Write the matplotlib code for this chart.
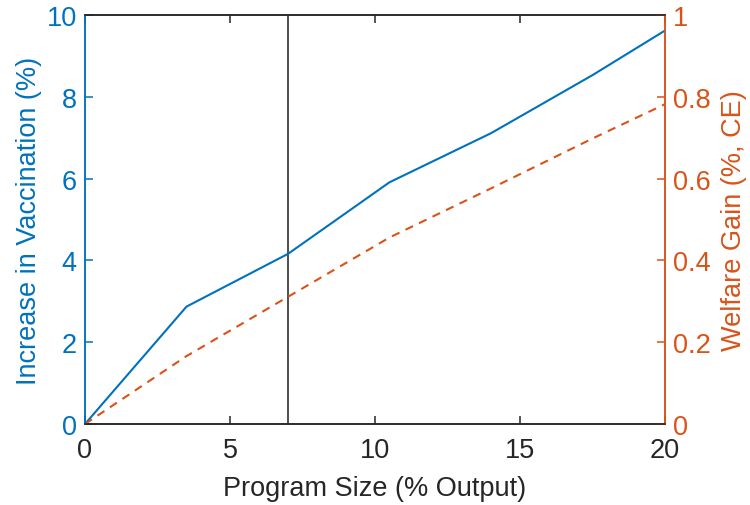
import matplotlib
matplotlib.use("Agg")
import matplotlib.pyplot as plt

program_size = [0, 3.5, 7, 10.5, 14, 17.5, 20]
vaccination_increase = [0, 2.87, 4.16, 5.91, 7.11, 8.53, 9.62]
welfare_gain = [0, 0.166, 0.311, 0.456, 0.576, 0.698, 0.782]
baseline_size = 7

xticks = [0, 5, 10, 15, 20]
yticks_left = [0, 2, 4, 6, 8, 10]
yticks_right = [0, 0.2, 0.4, 0.6, 0.8, 1]
yticklabels_right = ["0", "0.2", "0.4", "0.6", "0.8", "1"]

BLUE = "#0072BD"
ORANGE = "#D95319"
DARK = "#262626"

plt.rcParams['font.family'] = ['Liberation Sans', 'DejaVu Sans']
fs = 19.5

fig = plt.figure(figsize=(7.5, 5.06), dpi=100)
ax = fig.add_axes([85/750, 1-425/506, 580/750, 409/506])
ax2 = ax.twinx()

ax.plot(program_size, vaccination_increase, color=BLUE, lw=1.5, zorder=3)
ax.axvline(baseline_size, color="#404040", lw=1.3, zorder=2)
ax2.plot(program_size, welfare_gain, color=ORANGE, lw=1.5, ls=(0, (4, 3.2)))

ax.set_xlim(0, 20)
ax.set_ylim(0, 10)
ax2.set_ylim(0, 1)
ax.set_xticks(xticks)
ax.set_xticklabels([str(v) for v in xticks])
ax.set_yticks(yticks_left)
ax.set_yticklabels([str(v) for v in yticks_left])
ax2.set_yticks(yticks_right)
ax2.set_yticklabels(yticklabels_right)

ax.tick_params(axis='x', direction='in', length=6, width=1.1, colors=DARK,
               labelsize=fs, top=True, pad=9)
ax.tick_params(axis='y', direction='in', length=6, width=1.1, colors=BLUE,
               labelsize=fs, pad=6)
ax2.tick_params(axis='y', direction='in', length=6, width=1.1, colors=ORANGE,
                labelsize=fs, pad=6)

for a in (ax, ax2):
    a.spines['top'].set_color(DARK)
    a.spines['bottom'].set_color(DARK)
    for s in a.spines.values():
        s.set_linewidth(1.1)
ax.spines['left'].set_color(BLUE)
ax2.spines['left'].set_color(BLUE)
ax2.spines['right'].set_color(ORANGE)
ax.spines['right'].set_color(ORANGE)

ax.set_xlabel("Program Size (% Output)", fontsize=fs, color=DARK, labelpad=9)
ax.set_ylabel("Increase in Vaccination (%)", fontsize=fs, color=BLUE, labelpad=3)
ax2.set_ylabel("Welfare Gain (%, CE)", fontsize=fs, color=ORANGE, labelpad=7)

fig.savefig("out.png", dpi=100)
